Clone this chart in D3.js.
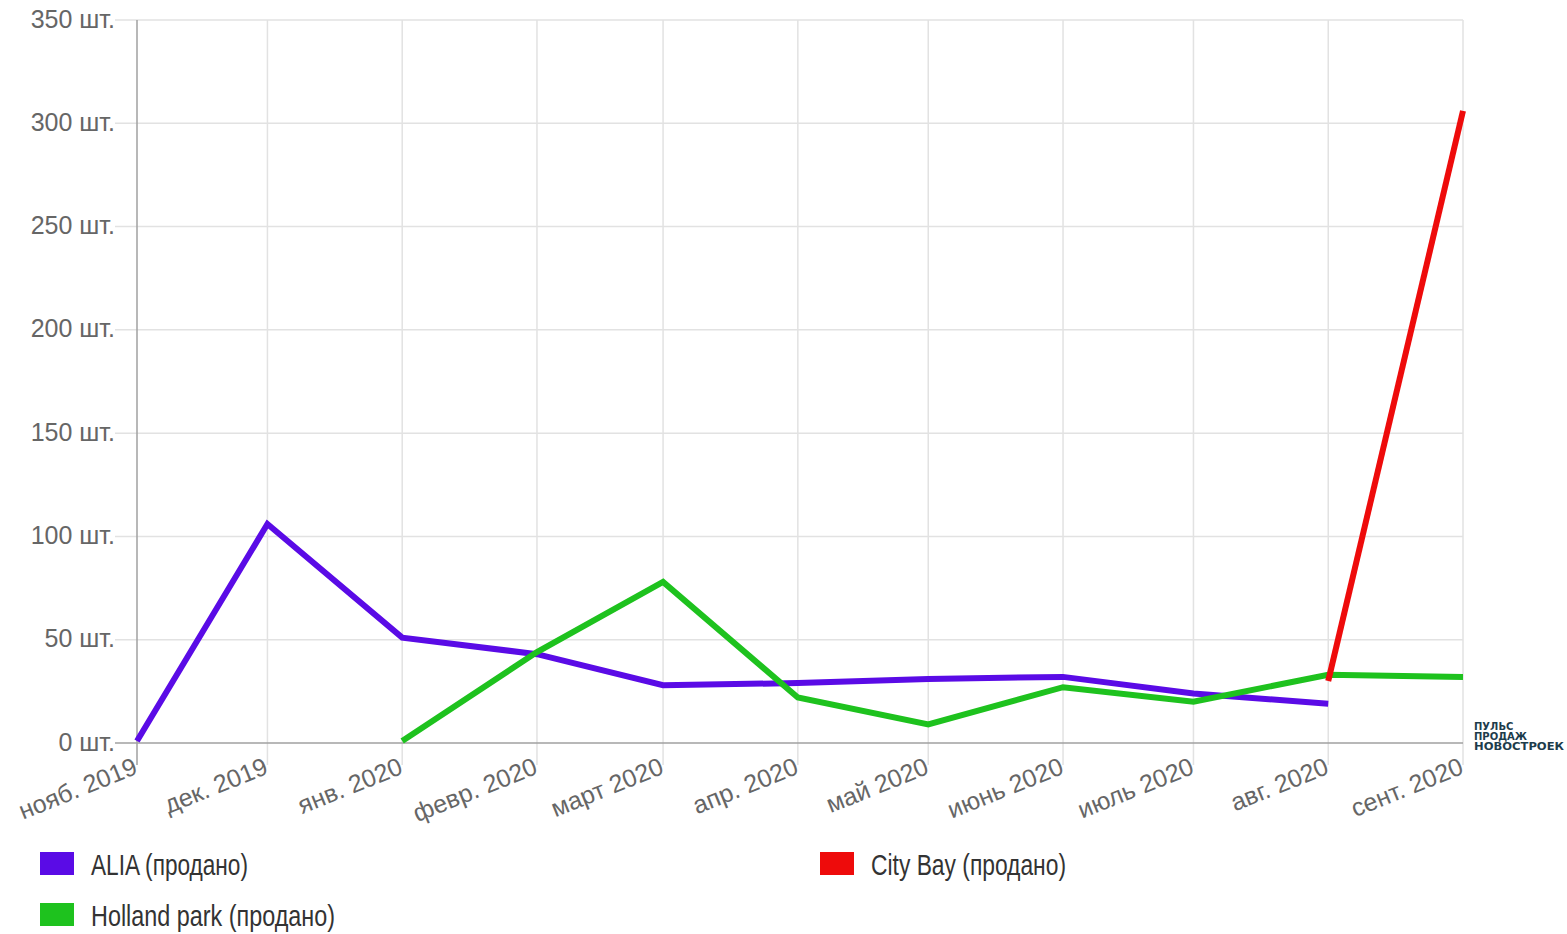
<!DOCTYPE html>
<html>
<head>
<meta charset="utf-8">
<script src="https://cdn.jsdelivr.net/npm/d3@7"></script>
<style>
  body { margin: 0; background: #fff; }
</style>
</head>
<body>
<div id="container"></div>
<script>
var months = ['2019-11-01', '2019-12-01', '2020-01-01', '2020-02-01', '2020-03-01', '2020-04-01',
    '2020-05-01', '2020-06-01', '2020-07-01', '2020-08-01', '2020-09-01'];
var monthLabels = ['нояб. 2019', 'дек. 2019', 'янв. 2020', 'февр. 2020', 'март 2020', 'апр. 2020',
    'май 2020', 'июнь 2020', 'июль 2020', 'авг. 2020', 'сент. 2020'];
var yTicks = [0, 50, 100, 150, 200, 250, 300, 350];

var aliaValues = [1, 106, 51, 43, 28, 29, 31, 32, 24, 19, null];
var hollandValues = [null, null, 1, 44, 78, 22, 9, 27, 20, 33, 32];
var cityBayValues = [null, null, null, null, null, null, null, null, null, 30, 306];

var seriesNames = ['ALIA (продано)', 'Holland park (продано)', 'City Bay (продано)'];
var seriesColors = ['#5a0be6', '#1ec21e', '#ee0b0b'];

var width = 1567, height = 934;
var plotLeft = 137, plotRight = 1463, plotTop = 20, plotBottom = 743;

var parse = d3.timeParse('%Y-%m-%d');
var dates = months.map(parse);

var x = d3.scaleTime()
    .domain([dates[0], dates[dates.length - 1]])
    .range([plotLeft, plotRight]);

var y = d3.scaleLinear()
    .domain([0, 350])
    .range([plotBottom, plotTop]);

var svg = d3.select('#container').append('svg')
    .attr('width', width)
    .attr('height', height)
    .style('font-family', '"Liberation Sans", Arial, sans-serif');

// grid
svg.append('g').selectAll('line')
    .data(yTicks.filter(function (d) { return d > 0; }))
    .enter().append('line')
    .attr('x1', plotLeft - 22)
    .attr('x2', plotRight)
    .attr('y1', function (d) { return y(d); })
    .attr('y2', function (d) { return y(d); })
    .attr('stroke', '#e2e2e2')
    .attr('stroke-width', 1.5);

svg.append('g').selectAll('line')
    .data(dates.slice(1))
    .enter().append('line')
    .attr('x1', function (d) { return x(d); })
    .attr('x2', function (d) { return x(d); })
    .attr('y1', plotTop)
    .attr('y2', plotBottom + 22)
    .attr('stroke', '#e2e2e2')
    .attr('stroke-width', 1.5);

// axes lines
svg.append('line')
    .attr('x1', plotLeft).attr('x2', plotLeft)
    .attr('y1', plotTop).attr('y2', plotBottom + 22)
    .attr('stroke', '#a0a0a0').attr('stroke-width', 1.5);
svg.append('line')
    .attr('x1', plotLeft - 22).attr('x2', plotRight)
    .attr('y1', plotBottom).attr('y2', plotBottom)
    .attr('stroke', '#a0a0a0').attr('stroke-width', 1.5);

// y labels
svg.append('g').selectAll('text')
    .data(yTicks)
    .enter().append('text')
    .attr('x', plotLeft - 22)
    .attr('y', function (d) { return y(d); })
    .attr('dy', '0.3em')
    .attr('text-anchor', 'end')
    .attr('fill', '#666')
    .style('font-size', '25px')
    .text(function (d) { return d + ' шт.'; });

// x labels
svg.append('g').selectAll('text')
    .data(dates)
    .enter().append('text')
    .attr('transform', function (d) { return 'translate(' + (x(d) + 2) + ',' + (plotBottom + 30) + ') rotate(-22)'; })
    .attr('text-anchor', 'end')
    .attr('fill', '#666')
    .style('font-size', '25px')
    .text(function (d, i) { return monthLabels[i]; });

// lines
var line = d3.line()
    .defined(function (d) { return d.v !== null; })
    .x(function (d) { return x(d.date); })
    .y(function (d) { return y(d.v); });

[aliaValues, hollandValues, cityBayValues].forEach(function (vals, i) {
    var pts = vals.map(function (v, j) { return { date: dates[j], v: v }; });
    svg.append('path')
        .datum(pts)
        .attr('d', line)
        .attr('fill', 'none')
        .attr('stroke', seriesColors[i])
        .attr('stroke-width', 6);
});

// watermark
var mark = svg.append('text')
    .attr('fill', '#1d3c4c')
    .style('font-family', '"DejaVu Sans", sans-serif')
    .style('font-weight', 'bold')
    .style('font-size', '10px');
['ПУЛЬС', 'ПРОДАЖ', 'НОВОСТРОЕК'].forEach(function (t, i) {
    mark.append('tspan').attr('x', 1474).attr('y', 730 + i * 10)
        .attr('textLength', i == 2 ? 90 : null)
        .attr('lengthAdjust', 'spacingAndGlyphs')
        .text(t);
});

// legend
var legendPos = [[40, 852], [40, 903], [820, 852]];
var legendWidths = [157, 244, 195];
var legend = svg.append('g').selectAll('g')
    .data(seriesNames)
    .enter().append('g')
    .attr('transform', function (d, i) { return 'translate(' + legendPos[i][0] + ',' + legendPos[i][1] + ')'; });
legend.append('rect')
    .attr('width', 34)
    .attr('height', 23)
    .attr('fill', function (d, i) { return seriesColors[i]; });
legend.append('text')
    .attr('x', 51)
    .attr('y', 23)
    .attr('fill', '#333')
    .attr('textLength', function (d, i) { return legendWidths[i]; })
    .attr('lengthAdjust', 'spacingAndGlyphs')
    .style('font-size', '30px')
    .text(function (d) { return d; });
</script>
</body>
</html>
